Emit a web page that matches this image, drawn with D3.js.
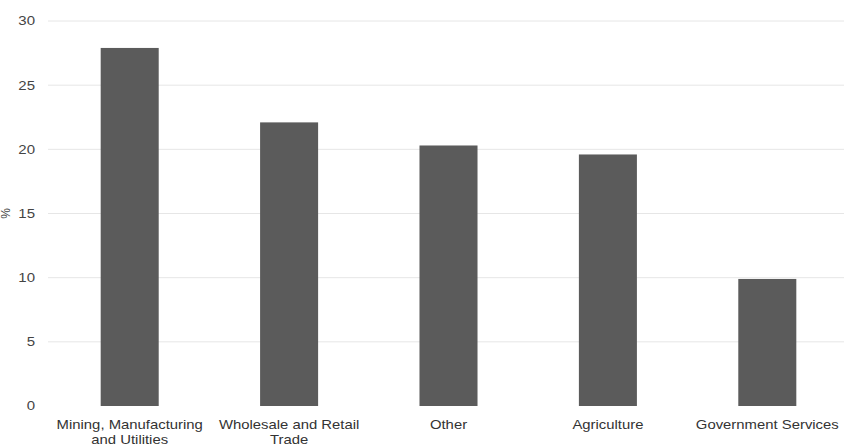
<!DOCTYPE html>
<meta charset="utf-8">
<html>
<head>
<script src="https://d3js.org/d3.v7.min.js"></script>
<style>
  body { margin: 0; background: #fff; }
  svg { display: block; font-family: "Liberation Sans", Arial, sans-serif; }
</style>
</head>
<body>
<div id="viz"></div>
<script>
  // data
  let sectors = ["Mining, Manufacturing and Utilities", "Wholesale and Retail Trade", "Other", "Agriculture", "Government Services"];
  let shares = [27.9, 22.1, 20.3, 19.6, 9.9];
  let yTicks = [0, 5, 10, 15, 20, 25, 30];

  let width = 844, height = 445;
  let margin = {top: 21, bottom: 39, left: 48};

  let svg = d3.select('#viz')
    .append('svg')
    .attr('width', width)
    .attr('height', height);

  let x = d3.scaleBand()
    .domain(sectors)
    .range([50, 847])
    .paddingInner(0.636)
    .paddingOuter(0.318);

  let y = d3.scaleLinear()
    .domain([0, 30])
    .range([height - margin.bottom, margin.top]);

  // gridlines
  svg.append('g')
    .selectAll('line')
    .data(yTicks.slice(1))
    .join('line')
    .attr('x1', margin.left)
    .attr('x2', width)
    .attr('y1', d => y(d))
    .attr('y2', d => y(d))
    .attr('stroke', '#e6e6e6')
    .attr('stroke-width', 1);

  // y axis labels (the reference glyphs are wide, so stretch them a bit)
  let yAxis = svg.append('g')
    .attr('transform', 'translate(35,0)')
    .call(d3.axisLeft(y).tickValues(yTicks).tickSize(0).tickPadding(0));
  yAxis.select('.domain').remove();
  yAxis.selectAll('text')
    .attr('transform', 'scale(1.25,1)')
    .style('font-size', '12px')
    .style('fill', '#444')
    .style('font-family', '"Liberation Sans", Arial, sans-serif');

  // y title, mostly off the left edge
  svg.append('text')
    .attr('transform', `translate(10,${y(15)})rotate(-90)`)
    .attr('text-anchor', 'middle')
    .style('font-size', '12px')
    .style('fill', '#444')
    .text('%');

  // bars
  svg.append('g')
    .selectAll('rect')
    .data(sectors)
    .join('rect')
    .attr('x', d => x(d))
    .attr('y', (d, i) => y(shares[i]))
    .attr('width', x.bandwidth())
    .attr('height', (d, i) => y(0) - y(shares[i]))
    .attr('fill', '#5b5b5b');

  // x labels, wrapped
  let xAxis = svg.append('g')
    .attr('transform', `translate(0,${y(0)})`)
    .call(d3.axisBottom(x).tickSize(0).tickPadding(0));
  xAxis.select('.domain').remove();
  xAxis.selectAll('text')
    .attr('transform', 'scale(1.24,1)')
    .style('font-size', '12px')
    .style('fill', '#333')
    .style('font-family', '"Liberation Sans", Arial, sans-serif')
    .each(function(d) {
      let lines = {
        "Mining, Manufacturing and Utilities": ["Mining, Manufacturing", "and Utilities"],
        "Wholesale and Retail Trade": ["Wholesale and Retail", "Trade"]
      }[d] || [d];
      let t = d3.select(this).text(null).attr('y', 0).attr('dy', null);
      lines.forEach((l, i) => {
        t.append('tspan')
          .attr('x', 0)
          .attr('y', 23 + i * 15)
          .text(l);
      });
    });
</script>
</body>
</html>
